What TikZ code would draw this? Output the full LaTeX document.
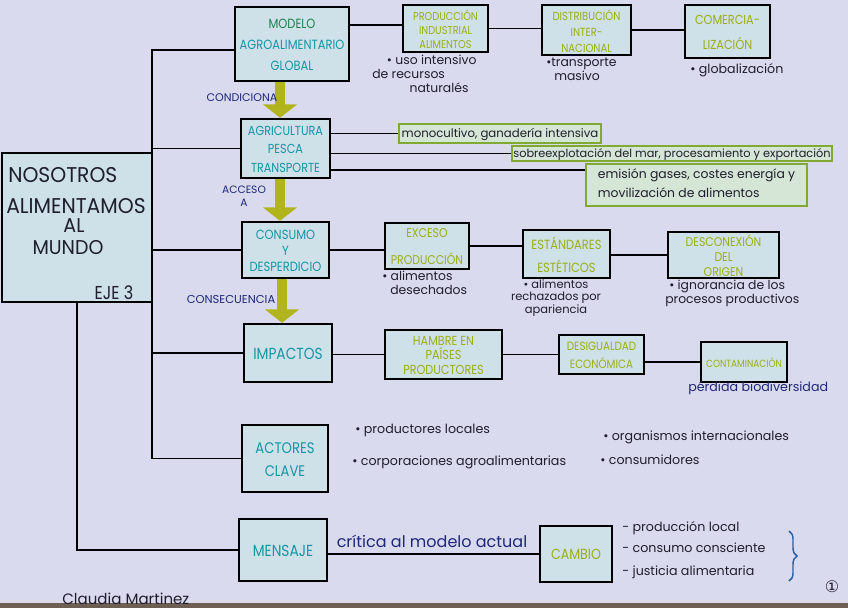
\documentclass[tikz,border=0pt]{standalone}
\usepackage{fontspec}
\setmainfont{Poppins}
\newfontfamily\bfont[FakeStretch=0.86]{Poppins}
\newfontfamily\nfont[FakeStretch=0.95]{Poppins}
\newfontfamily\symfont{DejaVu Sans}
\usetikzlibrary{fit,arrows.meta,decorations.pathreplacing,calc}
\definecolor{paper}{RGB}{218,218,238}
\definecolor{boxfill}{RGB}{206,224,232}
\definecolor{gfill}{RGB}{214,230,214}
\definecolor{gline}{RGB}{130,170,50}
\definecolor{tealtxt}{RGB}{20,150,165}
\definecolor{greentxt}{RGB}{30,130,80}
\definecolor{olivetxt}{RGB}{155,175,20}
\definecolor{bluetxt}{RGB}{30,40,120}
\definecolor{notec}{RGB}{30,30,45}
\definecolor{arrowc}{RGB}{178,180,30}
\definecolor{bracec}{RGB}{40,95,170}
\definecolor{table}{RGB}{110,95,85}
\tikzset{
  box/.style={draw=black, line width=1.8pt, fill=boxfill, inner sep=0pt},
  gbox/.style={draw=gline, line width=1pt, fill=gfill, inner sep=0pt, align=center, text=notec},
  bt/.style={inner sep=0pt, align=center, yshift=-0.6pt},
  tl/.style={bt, text=tealtxt},
  ol/.style={bt, text=olivetxt},
  conn/.style={line width=1.4pt, draw=black},
  bigarrow/.style={draw=arrowc, line width=7.5pt, -{Triangle[length=10pt,width=25pt]}},
  note/.style={text=notec, inner sep=0pt, font=\fontsize{9.5}{11}\selectfont},
  lbl/.style={text=bluetxt, inner sep=0pt, font=\fontsize{8.3}{10}\selectfont},
  big/.style={text=notec, inner sep=0pt, font=\nfont\fontsize{16}{18}\selectfont},
}
\begin{document}
\begin{tikzpicture}[x=0.75pt,y=-0.75pt]
\fill[paper] (0,0) rectangle (848,608);
\useasboundingbox (0,0) rectangle (848,608);
\fill[table] (0,603) rectangle (848,608);

% boxes
\node[box, fit={(235,7) (349,81)}] (modelo) {};
\node[box, fit={(403,5) (488,52)}] (prod) {};
\node[box, fit={(542,5) (631,55)}] (dist) {};
\node[box, fit={(685,5) (770,58)}] (comer) {};
\node[box, fit={(2,153) (152,302)}] (nosotros) {};
\node[box, fit={(241,119) (330,178)}] (agri) {};
\node[box, fit={(242,222) (329,278)}] (consumo) {};
\node[box, fit={(385,223) (469,269)}] (exceso) {};
\node[box, fit={(523,230) (610,278)}] (estand) {};
\node[box, fit={(668,232) (779,278)}] (descon) {};
\node[box, fit={(244,324) (332,382)}] (impactos) {};
\node[box, fit={(385,330) (502,379)}] (hambre) {};
\node[box, fit={(559,335) (644,374)}] (desig) {};
\node[box, fit={(701,342) (787,382)}] (contam) {};
\node[box, fit={(242,425) (328,492)}] (actores) {};
\node[box, fit={(239,519) (327,581)}] (mensaje) {};
\node[box, fit={(540,526) (612,582)}] (cambio) {};

% box texts
\node[tl, font=\bfont\fontsize{10}{15.5}\selectfont] (modelo-t) at (modelo.center) {{\color{greentxt}MODELO}\\AGROALIMENTARIO\\GLOBAL};
\node[ol, font=\bfont\fontsize{8.5}{10.8}\selectfont] (prod-t) at (prod.center) {PRODUCCIÓN\\INDUSTRIAL\\ALIMENTOS};
\node[ol, font=\bfont\fontsize{8.8}{12}\selectfont] (dist-t) at (dist.center) {DISTRIBUCIÓN\\INTER-\\NACIONAL};
\node[ol, font=\bfont\fontsize{9.8}{19}\selectfont] (comer-t) at (comer.center) {COMERCIA-\\LIZACIÓN};
\node[big, anchor=west] (n1) at (8,175) {NOSOTROS};
\node[big, anchor=west] (n2) at (6,206) {ALIMENTAMOS};
\node[big, font=\nfont\fontsize{15}{17}\selectfont] (n3) at (74,226) {AL};
\node[big, font=\nfont\fontsize{15}{17}\selectfont] (n4) at (68,248) {MUNDO};
\node[big, font=\bfont\fontsize{14}{16}\selectfont] (eje) at (114,293) {EJE 3};

\node[tl, font=\bfont\fontsize{9.8}{14}\selectfont] (agri-t) at (agri.center) {AGRICULTURA\\PESCA\\TRANSPORTE};
\node[tl, font=\bfont\fontsize{10}{12.3}\selectfont] (consumo-t) at (consumo.center) {CONSUMO\\Y\\DESPERDICIO};
\node[ol, font=\bfont\fontsize{9.5}{20}\selectfont] (exceso-t) at (exceso.center) {EXCESO\\PRODUCCIÓN};
\node[ol, font=\bfont\fontsize{10}{17}\selectfont] (estand-t) at (estand.center) {ESTÁNDARES\\ESTÉTICOS};
\node[ol, font=\bfont\fontsize{9.5}{11}\selectfont] (descon-t) at (descon.center) {DESCONEXIÓN\\DEL\\ORIGEN};
\node[tl, font=\bfont\fontsize{12}{14}\selectfont] (impactos-t) at (impactos.center) {IMPACTOS};
\node[ol, font=\bfont\fontsize{9.8}{11}\selectfont] (hambre-t) at (hambre.center) {HAMBRE EN\\PAÍSES\\PRODUCTORES};
\node[ol, font=\bfont\fontsize{9}{13.5}\selectfont] (desig-t) at (desig.center) {DESIGUALDAD\\ECONÓMICA};
\node[ol, font=\bfont\fontsize{7.8}{10}\selectfont] (contam-t) at (contam.center) {CONTAMINACIÓN};
\node[tl, font=\bfont\fontsize{11.5}{17}\selectfont] (actores-t) at (actores.center) {ACTORES\\CLAVE};
\node[tl, font=\bfont\fontsize{12}{14}\selectfont] (mensaje-t) at (mensaje.center) {MENSAJE};
\node[ol, font=\bfont\fontsize{11}{13}\selectfont] (cambio-t) at (cambio.center) {CAMBIO};

% green note boxes
\node[gbox, fit={(399,124) (601,143)}] (mono) {};
\node[note, font=\fontsize{8.8}{10}\selectfont, yshift=-1pt] (mono-t) at (mono.center) {monocultivo, ganadería intensiva};
\node[gbox, fit={(512,146) (832,161)}] (sobre) {};
\node[note, font=\fontsize{8.5}{10}\selectfont, yshift=-0.8pt] (sobre-t) at (sobre.center) {sobreexplotación del mar, procesamiento y exportación};
\node[gbox, fit={(586,164) (807,206)}] (emis) {};
\node[note, align=left, font=\fontsize{9.3}{14}\selectfont, yshift=1.5pt] (emis-t) at (emis.center) {emisión gases, costes energía y\\movilización de alimentos};

% trunk and connectors
\coordinate (tTop) at (152,50);
\draw[conn] (modelo.west |- tTop) -- (tTop) -- (tTop |- actores.west) -- (actores.west);
\draw[conn] (tTop |- agri.west) -- (agri.west);
\draw[conn] (tTop |- consumo.west) -- (consumo.west);
\draw[conn] (tTop |- impactos.west) -- (impactos.west);
\draw[conn] (nosotros.south) |- (mensaje.west);

\coordinate (r1) at ([yshift=2.5pt]prod.west);
\draw[conn] (modelo.east |- r1) -- (r1);
\draw[conn] (prod.east) -- (dist.west |- prod.east);
\draw[conn] (dist.east) -- (comer.west |- dist.east);

\coordinate (e1) at ([yshift=-5.3pt]emis.north west);
\draw[conn] (agri.east |- mono.west) -- (mono.west);
\draw[conn] (agri.east |- sobre.west) -- (sobre.west);
\draw[conn] (agri.east |- e1) -- (e1);

\draw[conn] (consumo.east) -- (exceso.west |- consumo.east);
\draw[conn] (exceso.east) -- (estand.west |- exceso.east);
\draw[conn] (estand.east |- descon.west) -- (descon.west);

\draw[conn] (impactos.east |- hambre.west) -- (hambre.west);
\draw[conn] (hambre.east) -- (desig.west |- hambre.east);
\draw[conn] (desig.east |- contam.west) -- (contam.west);

\draw[conn] (mensaje.east |- cambio.west) -- (cambio.west);

% big arrows
\coordinate (ax) at (280,0);
\coordinate (ax2) at (282,0);
\draw[bigarrow] (modelo.south -| ax) -- (agri.north -| ax);
\draw[bigarrow] (agri.south -| ax) -- (consumo.north -| ax);
\draw[bigarrow] (consumo.south -| ax2) -- (impactos.north -| ax2);

\node[lbl] (lcond) at (242,98) {CONDICIONA};
\node[lbl, align=center, font=\fontsize{8}{10}\selectfont] (lacc) at (244,196) {ACCESO\\A};
\node[lbl, font=\fontsize{8.6}{10}\selectfont] (lcons) at (231,299) {CONSECUENCIA};

% notes
\node[note, align=left, anchor=north west, font=\fontsize{9.3}{10.3}\selectfont] (nprod) at (372,55) {\hspace*{11pt}• uso intensivo\\de recursos\\\hspace*{28pt}naturalés};
\node[note, align=left, anchor=north west, font=\fontsize{9.3}{10.5}\selectfont] (ndist) at (546,58) {•transporte\\\hspace*{6pt}masivo};
\node[note, anchor=west] (ncomer) at (690,70) {• globalización};
\node[note, align=left, anchor=north west, font=\fontsize{9.3}{10.5}\selectfont] (nexc) at (382,271) {• alimentos\\\hspace*{6pt}desechados};
\node[note, align=center, anchor=north, font=\fontsize{8.6}{9.4}\selectfont] (nest) at (556,279) {• alimentos\\rechazados por\\apariencia};
\node[note, align=left, anchor=north west, font=\fontsize{9.3}{10.5}\selectfont] (ndes) at (665,280) {\hspace*{3pt}• ignorancia de los\\procesos productivos};
\node[note, text=bluetxt, anchor=west] (ncont) at (688,388) {pérdida biodiversidad};

\node[note, anchor=west] (a1) at (355,430) {• productores locales};
\node[note, anchor=west] (a2) at (352,462) {• corporaciones agroalimentarias};
\node[note, anchor=west] (a3) at (603,437) {• organismos internacionales};
\node[note, anchor=west] (a4) at (600,460) {• consumidores};

\node[note, text=bluetxt, anchor=south, font=\fontsize{12}{14}\selectfont] (crit) at (432,548) {crítica al modelo actual};

\node[note, anchor=west] (c1) at (622,528) {- producción local};
\node[note, anchor=west] (c2) at (622,548) {- consumo consciente};
\node[note, anchor=west] (c3) at (622,572) {- justicia alimentaria};
\draw[bracec, line width=1.1pt, decorate, decoration={brace, amplitude=6pt}] (789,531) -- (789,581);

\node[note, font=\symfont\fontsize{12}{14}\selectfont] (pg) at (832,587) {①};
\node[note, font=\fontsize{11.3}{13}\selectfont, anchor=west] (autor) at (62,599) {Claudia Martinez};
\end{tikzpicture}
\end{document}
